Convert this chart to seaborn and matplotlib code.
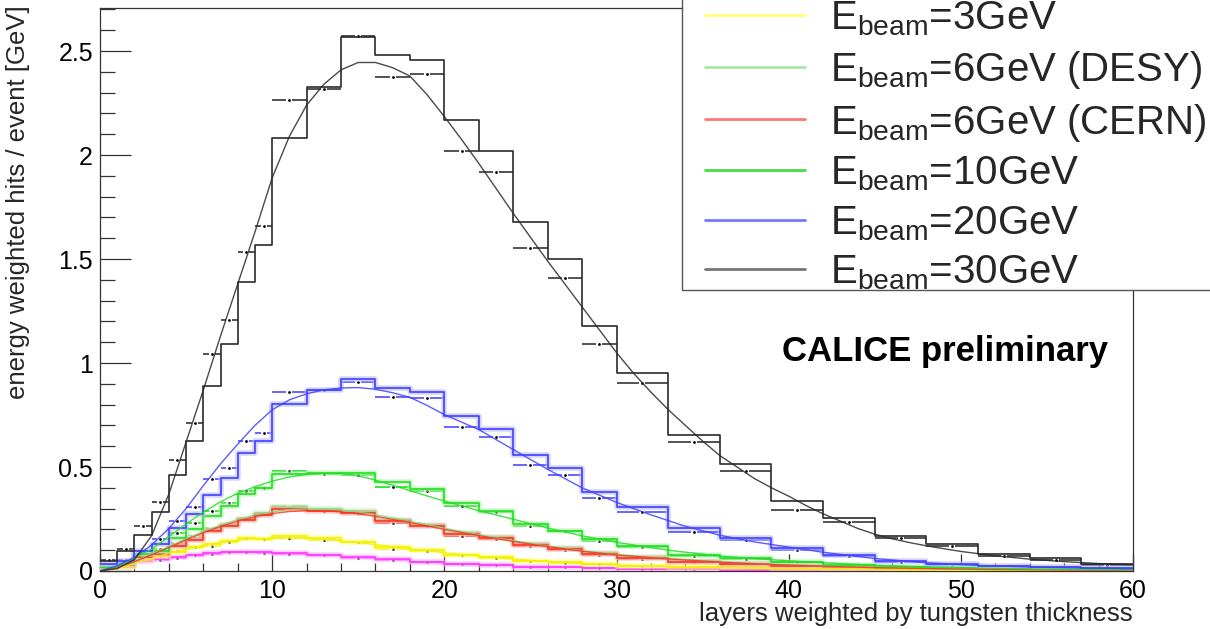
import numpy as np
import pandas as pd
import matplotlib
matplotlib.use("Agg")
import matplotlib.pyplot as plt
import seaborn as sns
from matplotlib.lines import Line2D
from matplotlib.patches import Rectangle
from matplotlib.ticker import MultipleLocator, FuncFormatter

# ---------------- data ----------------
bin_edges = [0, 1, 2, 3, 4, 5, 6, 7, 8, 9, 10, 12, 14, 16, 18, 20, 22, 24, 26, 28, 30,
             33, 36, 39, 42, 45, 48, 51, 54, 57, 60]

hist_30 = [0.05, 0.097, 0.174, 0.284, 0.46, 0.624, 0.888, 1.09, 1.39, 1.566,
           2.08, 2.325, 2.567, 2.48, 2.455, 2.17, 2.02, 1.68, 1.50, 1.178,
           0.951, 0.656, 0.514, 0.337, 0.257, 0.166, 0.129, 0.081, 0.061, 0.034]
data_30 = [0.055, 0.105, 0.217, 0.334, 0.536, 0.712, 1.043, 1.205, 1.534, 1.66,
           2.265, 2.316, 2.57, 2.377, 2.388, 2.02, 1.917, 1.555, 1.41, 1.09,
           0.904, 0.62, 0.48, 0.292, 0.236, 0.157, 0.118, 0.073, 0.053, 0.029]
curve_x_30 = [0, 1, 2, 3, 4, 5, 6, 7, 8, 9, 10, 11, 12, 13, 14, 15, 16, 17, 18, 19, 20,
              21, 22, 23, 24, 25, 26, 27, 28, 29, 30, 31, 32, 33, 34, 35, 36, 37, 38, 39,
              40, 41, 42, 43, 44, 45, 46, 47, 48, 50, 52, 54, 56, 58, 60]
curve_y_30 = [0.0, 0.012, 0.055, 0.17, 0.37, 0.62, 0.87, 1.13, 1.38, 1.63,
              1.89, 2.09, 2.24, 2.34, 2.41, 2.445, 2.445, 2.42, 2.38, 2.29,
              2.185, 2.075, 1.96, 1.84, 1.72, 1.605, 1.49, 1.38, 1.27, 1.16,
              1.05, 0.95, 0.86, 0.776, 0.70, 0.625, 0.555, 0.50, 0.445, 0.40,
              0.36, 0.315, 0.275, 0.24, 0.205, 0.177, 0.155, 0.137, 0.121,
              0.094, 0.073, 0.057, 0.045, 0.036, 0.03]

hist_20 = [0.035, 0.05, 0.097, 0.129, 0.209, 0.273, 0.364, 0.449, 0.566, 0.624,
           0.805, 0.868, 0.925, 0.881, 0.859, 0.747, 0.683, 0.557, 0.497, 0.38,
           0.31, 0.209, 0.161, 0.109, 0.077, 0.049, 0.034, 0.026, 0.021, 0.016]
data_20 = [0.03, 0.055, 0.097, 0.153, 0.241, 0.308, 0.441, 0.497, 0.624, 0.664,
           0.859, 0.87, 0.911, 0.835, 0.83, 0.691, 0.643, 0.511, 0.46, 0.352,
           0.284, 0.188, 0.148, 0.102, 0.073, 0.045, 0.03, 0.023, 0.019, 0.014]
curve_x_20 = [0, 1, 2, 3, 4, 5, 6, 7, 8, 9, 10, 11, 12, 13, 14, 15, 16, 17, 18, 19, 20,
              22, 24, 26, 28, 30, 32, 34, 36, 38, 40, 42, 45, 48, 51, 54, 57, 60]
curve_y_20 = [0.0, 0.025, 0.066, 0.125, 0.205, 0.30, 0.41, 0.515, 0.61, 0.70,
              0.775, 0.823, 0.852, 0.871, 0.88, 0.882, 0.874, 0.857, 0.835, 0.796,
              0.752, 0.68, 0.584, 0.489, 0.40, 0.33, 0.27, 0.215, 0.172, 0.14, 0.115,
              0.09, 0.06, 0.04, 0.027, 0.019, 0.014, 0.011]

hist_10 = [0.02, 0.04, 0.081, 0.097, 0.161, 0.204, 0.265, 0.313, 0.372, 0.397,
           0.465, 0.473, 0.473, 0.428, 0.395, 0.329, 0.289, 0.225, 0.193, 0.153,
           0.118, 0.077, 0.063, 0.045, 0.029, 0.018, 0.014, 0.01, 0.007, 0.005]
data_10 = [0.02, 0.045, 0.08, 0.105, 0.185, 0.23, 0.289, 0.328, 0.385, 0.398,
           0.48, 0.465, 0.46, 0.402, 0.387, 0.312, 0.284, 0.217, 0.193, 0.145,
           0.113, 0.073, 0.057, 0.042, 0.027, 0.017, 0.012, 0.009, 0.006, 0.004]
curve_x_10 = [0, 1, 2, 3, 4, 5, 6, 7, 8, 9, 10, 11, 12, 13, 14, 15, 16, 17, 18,
              20, 22, 24, 26, 28, 30, 33, 36, 39, 42, 45, 48, 51, 54, 57, 60]
curve_y_10 = [0.0, 0.022, 0.062, 0.105, 0.165, 0.226, 0.283, 0.333, 0.374, 0.405,
              0.432, 0.452, 0.464, 0.47, 0.469, 0.458, 0.437, 0.412, 0.386,
              0.336, 0.29, 0.249, 0.207, 0.169, 0.138,
              0.1, 0.072, 0.054, 0.04, 0.028, 0.02, 0.014, 0.01, 0.007, 0.005]

hist_6c = [0.015, 0.03, 0.065, 0.081, 0.118, 0.15, 0.19, 0.215, 0.247, 0.27,
           0.297, 0.289, 0.28, 0.241, 0.217, 0.177, 0.157, 0.125, 0.105, 0.081,
           0.062, 0.045, 0.034, 0.025, 0.017, 0.012, 0.009, 0.006, 0.004, 0.003]
data_6c = [0.015, 0.035, 0.07, 0.09, 0.13, 0.16, 0.2, 0.222, 0.25, 0.272,
           0.305, 0.287, 0.279, 0.233, 0.214, 0.169, 0.153, 0.118, 0.102, 0.077,
           0.06, 0.043, 0.033, 0.024, 0.016, 0.011, 0.008, 0.006, 0.004, 0.003]
hist_6d = [0.015, 0.03, 0.068, 0.085, 0.122, 0.155, 0.195, 0.22, 0.252, 0.277,
           0.31, 0.298, 0.29, 0.247, 0.222, 0.183, 0.163, 0.131, 0.11, 0.086,
           0.066, 0.048, 0.036, 0.027, 0.018, 0.013, 0.009, 0.007, 0.005, 0.003]
data_6d = [0.016, 0.037, 0.073, 0.094, 0.136, 0.166, 0.206, 0.228, 0.256, 0.279,
           0.312, 0.293, 0.285, 0.238, 0.219, 0.174, 0.157, 0.122, 0.105, 0.08,
           0.062, 0.045, 0.034, 0.025, 0.017, 0.012, 0.008, 0.006, 0.004, 0.003]
curve_x_6 = [0, 1, 2, 3, 4, 5, 6, 7, 8, 9, 10, 11, 12, 13, 14, 15, 16,
             18, 20, 22, 24, 26, 28, 30, 33, 36, 39, 42, 45, 48, 51, 54, 57, 60]
curve_y_6c = [0.0, 0.018, 0.045, 0.078, 0.113, 0.15, 0.184, 0.214, 0.24, 0.261,
              0.276, 0.286, 0.29, 0.289, 0.284, 0.275, 0.263,
              0.233, 0.2, 0.17, 0.142, 0.117, 0.095, 0.077,
              0.058, 0.043, 0.031, 0.023, 0.016, 0.012, 0.008, 0.006, 0.004, 0.003]
curve_y_6d = [0.0, 0.019, 0.047, 0.081, 0.117, 0.155, 0.19, 0.221, 0.248, 0.27,
              0.285, 0.295, 0.299, 0.298, 0.293, 0.284, 0.271,
              0.24, 0.206, 0.175, 0.146, 0.12, 0.098, 0.079,
              0.06, 0.044, 0.032, 0.024, 0.017, 0.012, 0.008, 0.006, 0.004, 0.003]

hist_3 = [0.01, 0.02, 0.057, 0.07, 0.09, 0.113, 0.129, 0.145, 0.157, 0.153,
          0.169, 0.157, 0.14, 0.113, 0.10, 0.077, 0.065, 0.049, 0.041, 0.034,
          0.026, 0.021, 0.018, 0.013, 0.01, 0.007, 0.005, 0.004, 0.003, 0.002]
data_3 = [0.01, 0.025, 0.055, 0.072, 0.097, 0.115, 0.122, 0.14, 0.16, 0.153,
          0.16, 0.15, 0.138, 0.108, 0.097, 0.075, 0.062, 0.047, 0.04, 0.032,
          0.025, 0.02, 0.016, 0.012, 0.009, 0.006, 0.005, 0.004, 0.003, 0.002]
curve_x_3 = [0, 1, 2, 3, 4, 5, 6, 7, 8, 9, 10, 11, 12, 13, 14, 16, 18, 20, 22, 24,
             26, 28, 30, 33, 36, 40, 45, 50, 55, 60]
curve_y_3 = [0.0, 0.012, 0.035, 0.06, 0.085, 0.105, 0.123, 0.138, 0.148, 0.155,
             0.158, 0.159, 0.157, 0.152, 0.145, 0.127, 0.107, 0.088, 0.071, 0.057,
             0.046, 0.037, 0.029, 0.022, 0.016, 0.011, 0.007, 0.004, 0.003, 0.002]

hist_1 = [0.01, 0.02, 0.049, 0.057, 0.065, 0.077, 0.086, 0.093, 0.093, 0.09,
          0.086, 0.077, 0.065, 0.057, 0.045, 0.034, 0.029, 0.021, 0.018, 0.015,
          0.012, 0.009, 0.007, 0.005, 0.004, 0.003, 0.002, 0.002, 0.001, 0.001]
data_1 = [0.01, 0.022, 0.047, 0.055, 0.063, 0.075, 0.084, 0.09, 0.091, 0.088,
          0.084, 0.075, 0.063, 0.055, 0.043, 0.033, 0.028, 0.02, 0.017, 0.014,
          0.011, 0.008, 0.006, 0.005, 0.004, 0.003, 0.002, 0.002, 0.001, 0.001]

legend_labels = [r"E$_{\mathregular{beam}}$=3GeV",
                 r"E$_{\mathregular{beam}}$=6GeV (DESY)",
                 r"E$_{\mathregular{beam}}$=6GeV (CERN)",
                 r"E$_{\mathregular{beam}}$=10GeV",
                 r"E$_{\mathregular{beam}}$=20GeV",
                 r"E$_{\mathregular{beam}}$=30GeV"]

x_label = "layers weighted by tungsten thickness"
y_label = "energy weighted hits / event [GeV]"
note = "CALICE preliminary"

# ---------------- style ----------------
sns.set_style("ticks")
plt.rcParams["font.family"] = ["Liberation Sans", "DejaVu Sans"]
plt.rcParams["mathtext.fontset"] = "custom"
plt.rcParams["mathtext.rm"] = "Liberation Sans"
plt.rcParams["mathtext.it"] = "Liberation Sans:italic"
plt.rcParams["mathtext.bf"] = "Liberation Sans:bold"

W, H = 1210, 629
fig = plt.figure(figsize=(W / 100, H / 100), dpi=100)
fig.patch.set_facecolor("white")
ax = fig.add_axes([100 / W, 58 / H, 1033 / W, 563 / H])
ax.set_facecolor("white")

edges = np.array(bin_edges, dtype=float)
centers = 0.5 * (edges[:-1] + edges[1:])
halfw = 0.5 * (edges[1:] - edges[:-1])

series = [
    # hist, data, curve_x, curve_y, line colour, band colour, errbar colour
    (hist_1, data_1, None, None, "#ff33ff", "#ffaaff", "#ff55ff"),
    (hist_3, data_3, curve_x_3, curve_y_3, "#f2f200", "#ffff77", "#eeee00"),
    (hist_6d, data_6d, curve_x_6, curve_y_6d, "#77dd77", "#bbeebb", "#88dd88"),
    (hist_6c, data_6c, curve_x_6, curve_y_6c, "#ff3322", "#ffaaaa", "#ee4433"),
    (hist_10, data_10, curve_x_10, curve_y_10, "#22dd22", "#aaf5aa", "#33dd33"),
    (hist_20, data_20, curve_x_20, curve_y_20, "#4040ff", "#b8b8ff", "#5a5aff"),
    (hist_30, data_30, curve_x_30, curve_y_30, "#2a2a2a", None, "#444444"),
]

for k, (h, d, cx, cy, col, band, ecol) in enumerate(series):
    z = 2 + k * 0.1
    df = pd.DataFrame({"center": centers, "value": list(h)})
    # error bars of the data points with a gap around the marker
    ax.errorbar(centers, d, xerr=halfw, fmt="none", ecolor=ecol, elinewidth=1.3,
                capsize=0, zorder=z)
    ax.scatter(centers, d, s=14, marker="s", color="white", linewidths=0, zorder=z + 0.01)
    ax.scatter(centers, d, s=4, marker="o", color="black", linewidths=0, zorder=z + 0.02)
    # histogram band + outline
    if band is not None:
        sns.histplot(data=df, x="center", weights="value", bins=bin_edges, element="step",
                     fill=False, color=band, linewidth=4.0, alpha=0.6, ax=ax, zorder=z + 2)
    sns.histplot(data=df, x="center", weights="value", bins=bin_edges, element="step",
                 fill=False, color=col, linewidth=1.2, ax=ax, zorder=z + 2.05)
    if cx is not None:
        sns.lineplot(x=cx, y=cy, color=col, linewidth=1.0, alpha=0.85, ax=ax,
                     sort=False, estimator=None, zorder=z + 4)

ax.set_xlim(0, 60)
ax.set_ylim(0, 2.707)

ax.xaxis.set_major_locator(MultipleLocator(10))
ax.xaxis.set_minor_locator(MultipleLocator(2))
ax.yaxis.set_major_locator(MultipleLocator(0.5))
ax.yaxis.set_minor_locator(MultipleLocator(0.1))
ax.yaxis.set_major_formatter(FuncFormatter(lambda v, p: "%g" % v))
ax.xaxis.set_major_formatter(FuncFormatter(lambda v, p: "%g" % v))

ax.tick_params(axis="both", which="both", direction="in", top=False, right=False,
               colors="#333333", labelcolor="black", width=0.9, labelsize=18)
ax.tick_params(axis="x", which="major", length=12.2, pad=6)
ax.tick_params(axis="x", which="minor", length=6.1)
ax.tick_params(axis="y", which="major", length=22.3, pad=5)
ax.tick_params(axis="y", which="minor", length=10.8)
for s in ax.spines.values():
    s.set_visible(True)
    s.set_linewidth(0.9)
    s.set_color("#333333")

ax.set_xlabel(x_label, fontsize=18.5, ha="right")
ax.xaxis.set_label_coords(1.0, -0.055)
ax.xaxis.label.set_verticalalignment("top")
ax.set_ylabel(y_label, fontsize=18.5)
ax.yaxis.set_label_coords(-0.0794, 1.005)
ylab = ax.yaxis.label
ylab.set_rotation_mode("default")
ylab.set_horizontalalignment("center")
ylab.set_verticalalignment("top")

ax.text(0.818, 0.39, note, transform=ax.transAxes, ha="center", va="center",
        fontsize=25, fontweight="bold", color="black", zorder=20)

# legend box (frame drawn separately so its padding matches the original)
frame = Rectangle((682 / W, 1 - 290 / H), (1230 - 682) / W, 0.6,
                  transform=fig.transFigure, facecolor="white", edgecolor="#555555",
                  linewidth=1.0, zorder=5)
fig.add_artist(frame)

legend_colors = ["#ffff77", "#a8e8a8", "#ff7777", "#44dd44", "#7777ff", "#777777"]
handles = [Line2D([], [], color=c, linewidth=2.0) for c in legend_colors]
leg = fig.legend(handles, legend_labels, loc="lower left",
                 bbox_to_anchor=(705 / W, 1 - 292 / H),
                 bbox_transform=fig.transFigure, borderaxespad=0,
                 fontsize=29, handlelength=2.48, handletextpad=0.62,
                 borderpad=0.0, labelspacing=0.27, frameon=False)
leg.set_zorder(6)

fig.savefig("out.png", dpi=100, facecolor="white")
